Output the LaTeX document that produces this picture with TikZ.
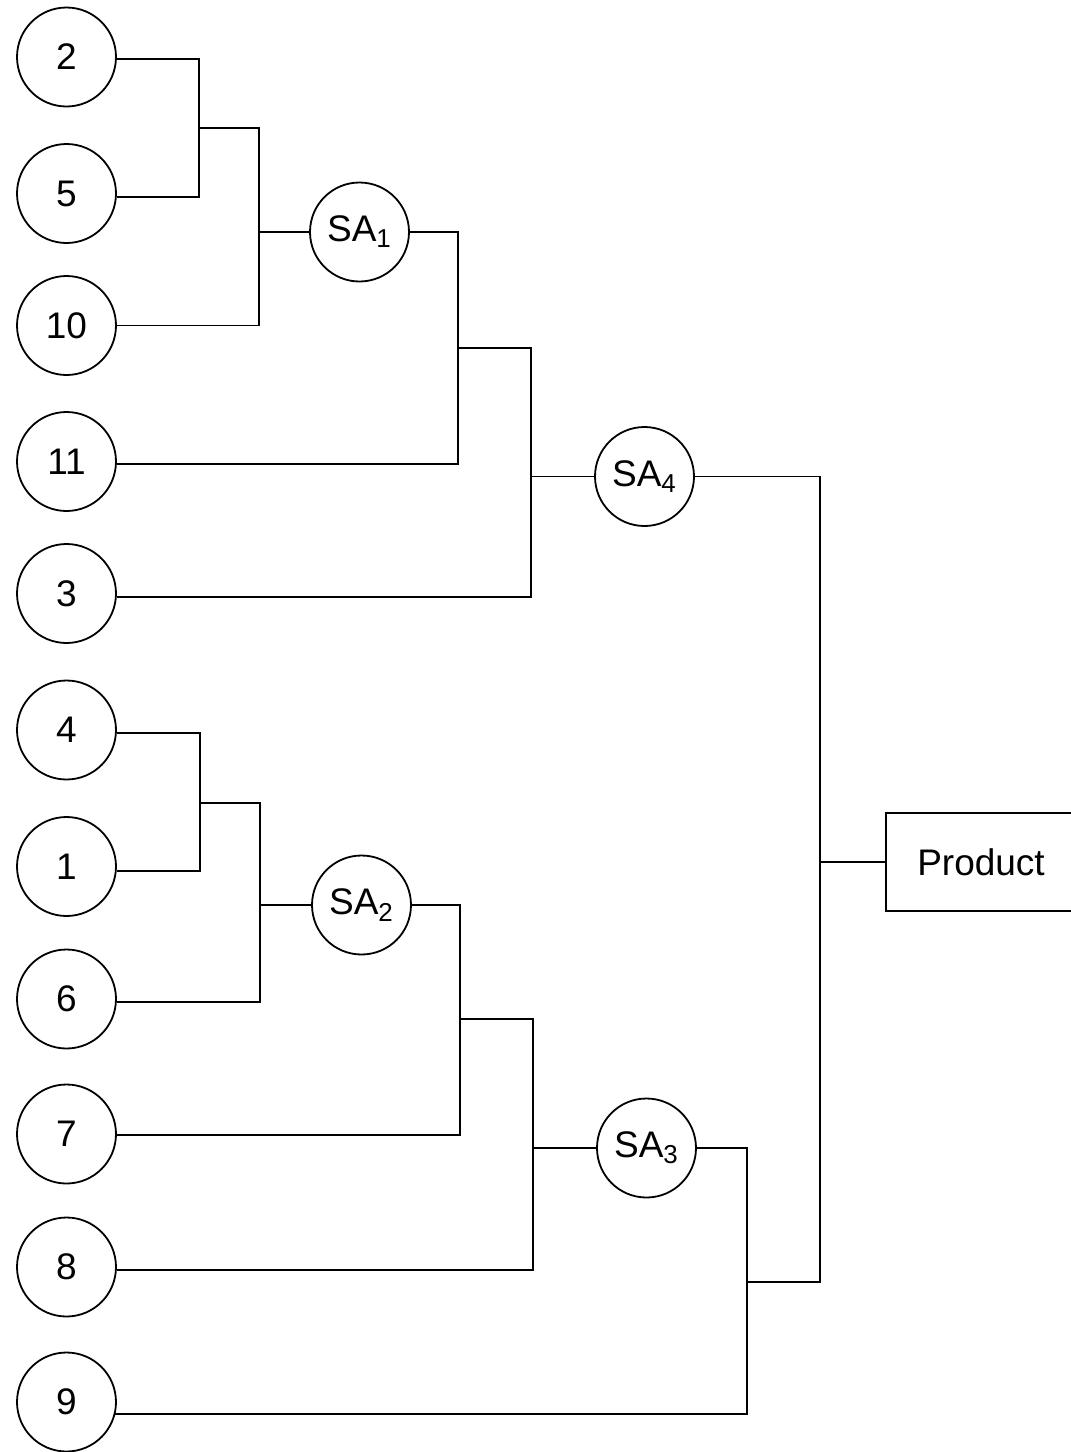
\documentclass[tikz,border=0pt]{standalone}
\usepackage{fontspec}
\setmainfont{Liberation Sans}
\begin{document}
\begin{tikzpicture}[x=0.5pt,y=-0.5pt,
  line width=0.9pt,
  part/.style={draw,circle,minimum size=49.5pt,inner sep=0pt,
    font=\fontsize{18.5pt}{22pt}\selectfont},
  asm/.style={part},
  prodbox/.style={draw,rectangle,minimum width=95pt,minimum height=49pt,
    inner sep=0pt,font=\fontsize{18.5pt}{22pt}\selectfont}]
\useasboundingbox (0,0) rectangle (1071,1452);
\clip (0,0) rectangle (1071,1452);

% single parts, left column
\node[part] (n2)  at (66.5,57)    {2};
\node[part] (n5)  at (66.5,193.5) {5};
\node[part] (n10) at (66.5,325.5) {10};
\node[part] (n11) at (66.5,461.5) {11};
\node[part] (n3)  at (66.5,593.5) {3};
\node[part] (n4)  at (66.5,730)   {4};
\node[part] (n1)  at (66.5,866.5) {1};
\node[part] (n6)  at (66.5,999)   {6};
\node[part] (n7)  at (66.5,1134)  {7};
\node[part] (n8)  at (66.5,1267)  {8};
\node[part] (n9)  at (66.5,1402)  {9};

% subassemblies
\node[asm] (sa1) at (359.5,232)  {SA\textsubscript{1}};
\node[asm] (sa4) at (644.5,476.5) {SA\textsubscript{4}};
\node[asm] (sa2) at (361.5,905)  {SA\textsubscript{2}};
\node[asm] (sa3) at (646.5,1148) {SA\textsubscript{3}};

% final product
\node[prodbox] (prod) at (981,862) {Product};

% junction points of the brackets
\coordinate (a1) at (199,128);
\coordinate (b1) at (259,232);
\coordinate (c1) at (458,348);
\coordinate (d1) at (531,476.5);
\coordinate (a2) at (200,803);
\coordinate (b2) at (260,905);
\coordinate (c2) at (460,1019);
\coordinate (d2) at (533,1148);
\coordinate (f)  at (747,1282);
\coordinate (e)  at (820,862);

% upper branch
\draw (n2.-2) -| (a1) |- (n5.-4);
\draw (a1) -| (b1) |- (n10.east);
\draw (b1) -- (sa1.west);
\draw (sa1.east) -| (c1) |- (n11.-3);
\draw (c1) -| (d1) |- (n3.-4);
\draw (d1) -- (sa4.west);
\draw (sa4.east) -| (e);

% lower branch
\draw (n4.-3) -| (a2) |- (n1.-5);
\draw (a2) -| (b2) |- (n6.-3);
\draw (b2) -- (sa2.west);
\draw (sa2.east) -| (c2) |- (n7.-1);
\draw (c2) -| (d2) |- (n8.-3);
\draw (d2) -- (sa3.west);
\draw (sa3.east) -| (f) |- (n9.-14);
\draw (f) -| (e);

% into the product
\draw (e) -- (prod.west);
\end{tikzpicture}
\end{document}
